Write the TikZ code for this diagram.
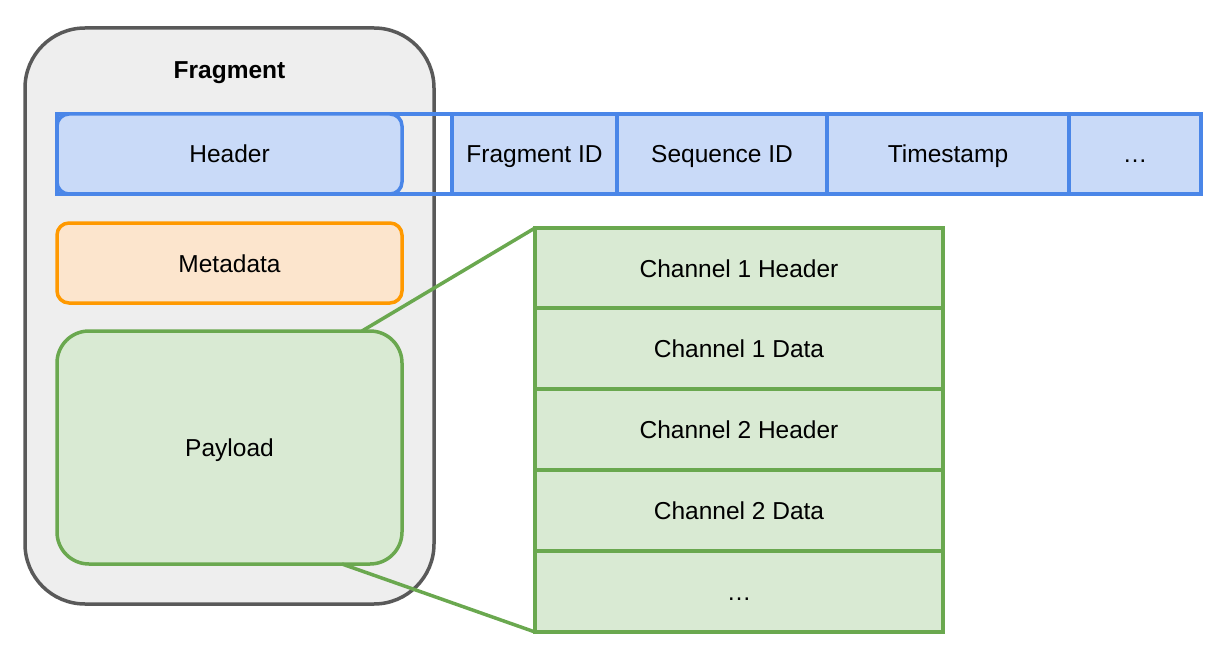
\documentclass[tikz,border=0pt]{standalone}
\usepackage{fontspec}
\setmainfont{Liberation Sans}
\begin{document}
\begin{tikzpicture}[x=1pt,y=-1pt,
  lbl/.style={font=\fontsize{24.5}{28}\selectfont, text=black, anchor=base, inner sep=0pt},
  bluebox/.style={draw=blue1, fill=blue2, line width=3.5pt},
  greenbox/.style={draw=green1, fill=green2, line width=3.5pt}
]
\definecolor{blue1}{HTML}{4A86E8}
\definecolor{blue2}{HTML}{C9DAF8}
\definecolor{green1}{HTML}{6AA84F}
\definecolor{green2}{HTML}{D9EAD3}
\definecolor{orange1}{HTML}{FF9900}
\definecolor{orange2}{HTML}{FCE5CD}
\definecolor{gray1}{HTML}{595959}
\definecolor{gray2}{HTML}{EEEEEE}
\useasboundingbox (0,0) rectangle (1219,658);
% fragment container
\draw[draw=gray1, fill=gray2, line width=3.5pt, rounded corners=60pt] (25,28) rectangle (434,604);
\node[lbl, font=\fontsize{24.5}{28}\selectfont\bfseries] (title) at (229.5,78.5) {Fragment};
% blue row outline
\draw[draw=blue1, line width=3.5pt] (57,114) rectangle (1201,194);
% header
\draw[bluebox, rounded corners=12pt] (57,114) rectangle (402,194);
\node[lbl] (header) at (229.5,163) {Header};
% cells
\draw[bluebox] (452,114) rectangle (617,194);
\node[lbl] (fid) at (534.5,163) {Fragment ID};
\draw[bluebox] (617,114) rectangle (827,194);
\node[lbl] (sid) at (722,163) {Sequence ID};
\draw[bluebox] (827,114) rectangle (1069,194);
\node[lbl] (ts) at (948,163) {Timestamp};
\draw[bluebox] (1069,114) rectangle (1201,194);
\node[lbl] (dots1) at (1135,163) {\ldots};
% metadata
\draw[draw=orange1, fill=orange2, line width=3.5pt, rounded corners=12pt] (57,223) rectangle (402,303);
\node[lbl] (meta) at (229.5,272.5) {Metadata};
% payload
\draw[greenbox, rounded corners=32pt] (57,331) rectangle (402,564);
\node[lbl] (payload) at (229.5,456.5) {Payload};
\coordinate (ptop) at (362,331);
\coordinate (pbot) at (342,564);
% green stack
\draw[greenbox] (535,228) rectangle (943,308);
\node[lbl] (c1h) at (739,277.5) {Channel 1 Header};
\draw[greenbox] (535,308) rectangle (943,389);
\node[lbl] (c1d) at (739,357.5) {Channel 1 Data};
\draw[greenbox] (535,389) rectangle (943,470);
\node[lbl] (c2h) at (739,438.5) {Channel 2 Header};
\draw[greenbox] (535,470) rectangle (943,551);
\node[lbl] (c2d) at (739,519.5) {Channel 2 Data};
\draw[greenbox] (535,551) rectangle (943,632);
\node[lbl] (dots2) at (739,600) {\ldots};
\coordinate (stop) at (535,228);
\coordinate (sbot) at (535,632);
\draw[green1, line width=3.5pt] (ptop) -- (stop);
\draw[green1, line width=3.5pt] (pbot) -- (sbot);
\end{tikzpicture}
\end{document}
